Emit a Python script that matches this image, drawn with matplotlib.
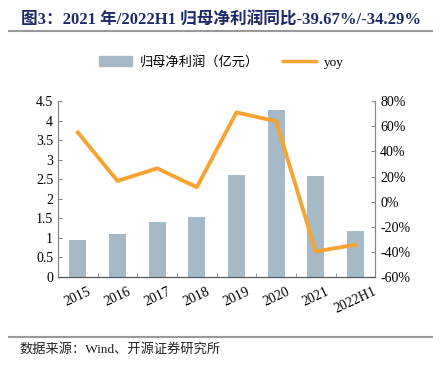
import matplotlib.pyplot as plt
from matplotlib.lines import Line2D

plt.rcParams['font.family'] = ['Liberation Serif', 'Noto Sans CJK SC']

years = ['2015', '2016', '2017', '2018', '2019', '2020', '2021', '2022H1']
profit = [0.95, 1.10, 1.40, 1.53, 2.62, 4.27, 2.58, 1.18]
yoy = [55.0, 16.5, 26.5, 11.5, 71.0, 64.0, -39.67, -34.29]

bar_color = '#a5bac6'
line_color = '#f6a331'
axis_color = '#888888'

fig = plt.figure(figsize=(4.43, 3.65), dpi=100)
ax = fig.add_axes([0.131, 0.241, 0.716, 0.482])

x = range(len(years))
ax.bar(x, profit, width=0.43, color=bar_color, zorder=2)
ax.set_xlim(-0.5, len(years) - 0.5)
ax.set_ylim(0, 4.5)
ax.set_yticks([0, 0.5, 1, 1.5, 2, 2.5, 3, 3.5, 4, 4.5])
ax.set_yticklabels(['0', '0.5', '1', '1.5', '2', '2.5', '3', '3.5', '4', '4.5'])
ax.set_xticks(list(x))
ax.set_xticklabels(years, rotation=25, ha='center')
ax.set_xticks([i + 0.5 for i in range(len(years) - 1)], minor=True)
ax.tick_params(axis='x', which='major', length=0, labelsize=10, pad=6)
ax.tick_params(axis='x', which='minor', direction='in', length=3, color=axis_color)
ax.tick_params(axis='y', direction='in', length=3, color=axis_color, labelsize=10)

ax2 = ax.twinx()
ax2.plot(x, yoy, color=line_color, linewidth=2.8, zorder=3)
ax2.set_ylim(-60, 80)
ax2.set_yticks(range(-60, 81, 20))
ax2.set_yticklabels([f'{v}%' for v in range(-60, 81, 20)])
ax2.tick_params(axis='y', direction='in', length=3, color=axis_color, labelsize=10)

for a in (ax, ax2):
    a.spines['top'].set_visible(False)
    a.spines['left'].set_color(axis_color)
    a.spines['right'].set_color(axis_color)
    a.spines['bottom'].set_color('#555555')

handles = [plt.Rectangle((0, 0), 1, 1, color=bar_color),
           Line2D([0], [0], color=line_color, linewidth=2.5)]
fig.legend(handles, ['归母净利润（亿元）', 'yoy'], loc='center', bbox_to_anchor=(0.5, 0.83),
           ncol=2, frameon=False, fontsize=9.5, handlelength=2.5, handleheight=0.9,
           columnspacing=1.8, handletextpad=0.6)

fig.text(0.048, 0.945, '图3：2021 年/2022H1 归母净利润同比-39.67%/-34.29%',
         fontsize=12, fontweight='bold', color='#1f2a6b', va='center')
fig.add_artist(Line2D([0.02, 0.975], [0.915, 0.915], color='#999999', linewidth=1.5))
fig.add_artist(Line2D([0.02, 0.975], [0.077, 0.077], color='#999999', linewidth=1.5))
fig.text(0.045, 0.043, '数据来源：Wind、开源证券研究所', fontsize=9.5, color='#222222', va='center')

fig.savefig('out.png', dpi=100)
